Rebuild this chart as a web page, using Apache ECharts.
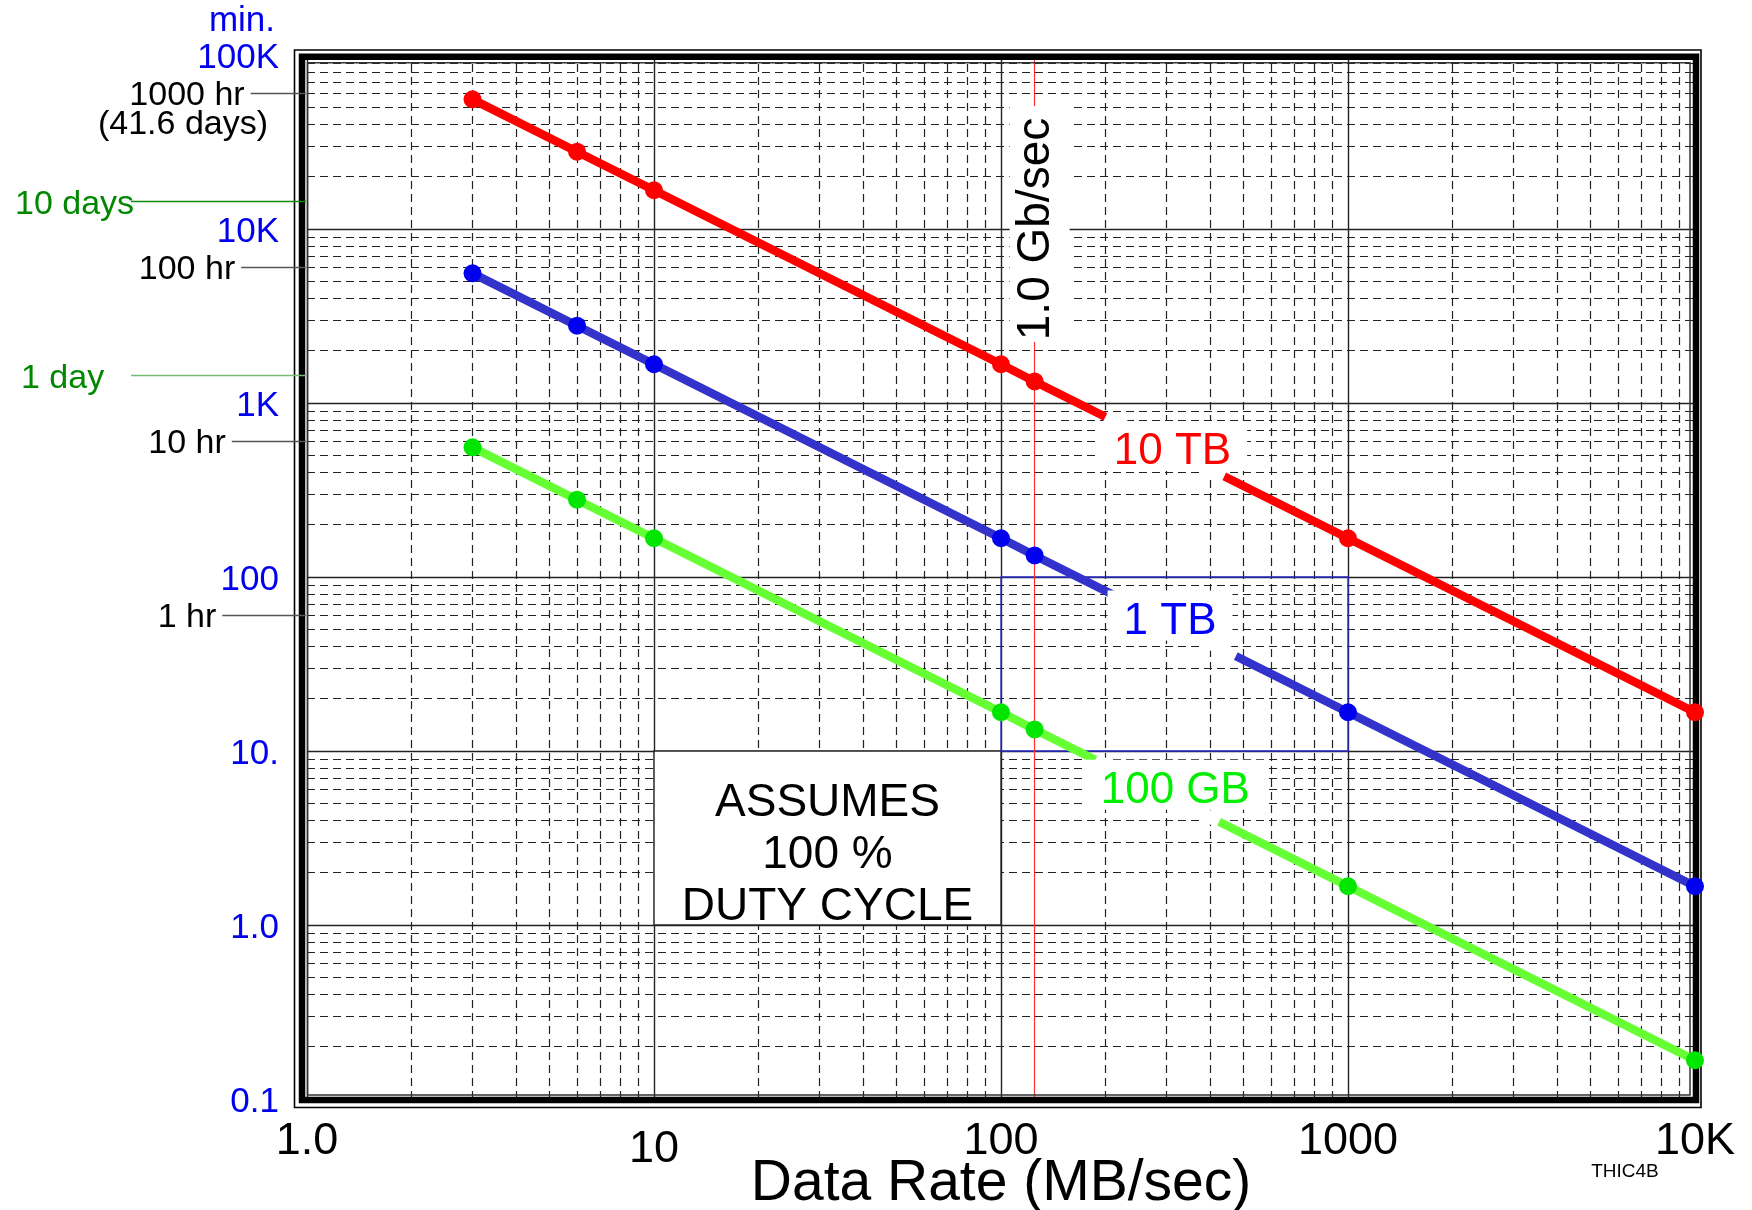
<!DOCTYPE html>
<html>
<head>
<meta charset="utf-8">
<script src="https://cdn.jsdelivr.net/npm/echarts@6/dist/echarts.min.js"></script>
<style>
html,body{margin:0;padding:0;background:#fff;}
#c{width:1752px;height:1210px;}
</style>
</head>
<body>
<div id="c"></div>
<script>
const FONT = '"Liberation Sans", Arial, Helvetica, sans-serif';

// ---------------- data ----------------
const rates = [3, 6, 10, 100, 125, 1000, 10000];               // MB/sec
const minutes10TB  = [55600, 27800, 16700, 1670, 1330, 167, 16.7];
const minutes1TB   = [5560, 2780, 1670, 167, 133, 16.7, 1.67];
const minutes100GB = [556, 278, 167, 16.7, 13.3, 1.67, 0.167];
const seriesNames  = ['10 TB', '1 TB', '100 GB'];

const xTickLabels = {0: '1.0', 1: '10', 2: '100', 3: '1000', 4: '10K'};            // by decade exponent
const yTickLabels = {'-1': '0.1', 0: '1.0', 1: '10.', 2: '100', 3: '1K', 4: '10K', 5: '100K'};
const minorSteps = [2, 3, 4, 5, 6, 7, 8, 9];
const xDecades = [1, 10, 100, 1000];
const yDecades = [0.1, 1, 10, 100, 1000, 10000];

const gigabitRate = 125;                     // 1.0 Gb/sec in MB/sec
const hourMarks = [['1000 hr', 60000], ['100 hr', 6000], ['10 hr', 600], ['1 hr', 60]];
const dayMarks  = [['10 days', 14400], ['1 day', 1440]];
const dutyBox = [[10, 1], [100, 10]];
const blueBox = [[100, 10], [1000, 100]];

// annotation layout (data-space anchors for labels, x-ranges of line gaps)
const seriesLabelAnchors = [[312, 551], [307, 58.5], [318, 6.24]];
const seriesGaps = [[200, 440], [219, 475], [187, 425]];
const gigabitLabelY = 10000;

// ---------------- styles ----------------
const lineColors   = ['#ff0000', '#3333cc', '#66ff33'];
const markerColors = ['#ff0000', '#0000ee', '#00e600'];
const labelColors  = ['#ff0000', '#0000ff', '#00ee00'];

const xMinor = [];
xDecades.forEach(d => minorSteps.forEach(m => xMinor.push(+(d * m).toPrecision(4))));
const yMinor = [];
yDecades.forEach(d => minorSteps.forEach(m => yMinor.push(+(d * m).toPrecision(4))));

const valueSets = [minutes10TB, minutes1TB, minutes100GB];
const dataSeries = seriesNames.map((name, i) => ({
  name: name,
  type: 'line',
  z: 5,
  clip: false,
  data: rates.map((r, k) => [r, valueSets[i][k]]),
  symbol: 'circle',
  symbolSize: 18,
  lineStyle: {color: lineColors[i], width: 8.5},
  itemStyle: {color: markerColors[i], borderWidth: 0},
  emphasis: {disabled: true},
  silent: true
}));

const chart = echarts.init(document.getElementById('c'), null, {renderer: 'canvas', width: 1752, height: 1210});

const option = {
  animation: false,
  backgroundColor: '#ffffff',
  textStyle: {fontFamily: FONT},
  grid: {left: 307, right: 57, top: 55, bottom: 111, containLabel: false, outerBoundsMode: 'none'},
  xAxis: {
    type: 'log', logBase: 10, min: 1, max: 10000,
    name: 'Data Rate (MB/sec)', nameLocation: 'middle', nameGap: 57, nameMoveOverlap: false,
    nameTextStyle: {fontSize: 57, color: '#000', fontFamily: FONT},
    axisLine: {show: false}, axisTick: {show: false},
    axisLabel: {
      fontSize: 45, color: '#000', margin: 20, fontFamily: FONT,
      showMinLabel: true, showMaxLabel: true,
      formatter: v => {
        const e = Math.round(Math.log10(v));
        const t = xTickLabels[e] || '';
        return e === 1 ? '{low|' + t + '}' : t;
      },
      rich: {low: {fontSize: 45, color: '#000', fontFamily: FONT, padding: [8, 0, 0, 0]}}
    },
    splitLine: {show: true, lineStyle: {color: '#222', width: 1.4}}
  },
  yAxis: {
    type: 'log', logBase: 10, min: 0.1, max: 100000,
    name: 'min.', nameLocation: 'end', nameGap: 34, nameMoveOverlap: false,
    nameTextStyle: {fontSize: 35, color: '#0000ee', fontFamily: FONT, align: 'right', verticalAlign: 'middle', padding: [0, 32, 0, 0]},
    axisLine: {show: false}, axisTick: {show: false},
    axisLabel: {
      fontSize: 35, color: '#0000ee', margin: 28, fontFamily: FONT,
      showMinLabel: true, showMaxLabel: true,
      formatter: v => '{a|' + (yTickLabels[Math.round(Math.log10(v))] || '') + '}',
      rich: {a: {fontSize: 35, color: '#0000ee', fontFamily: FONT, padding: [6, 0, 0, 0]}}
    },
    splitLine: {show: true, lineStyle: {color: '#222', width: 1.4}}
  },
  series: [
    {
      type: 'line', data: [], z: 1, silent: true,
      markLine: {
        z: 1, silent: true, animation: false, symbol: ['none', 'none'],
        label: {show: false},
        lineStyle: {type: [8, 5], color: '#222', width: 1.2},
        emphasis: {disabled: true},
        data: xMinor.map(v => ({xAxis: v})).concat(yMinor.map(v => ({yAxis: v})))
      }
    },
    {
      type: 'line', data: [], z: 2, silent: true,
      markArea: {
        z: 2, silent: true, animation: false,
        emphasis: {disabled: true},
        data: [
          [{coord: dutyBox[0], itemStyle: {color: '#ffffff', borderColor: '#222', borderWidth: 1.4},
            label: {show: true, position: 'inside', formatter: 'ASSUMES\n100 %\nDUTY CYCLE', fontSize: 46, lineHeight: 52,
                    color: '#000', fontFamily: FONT, offset: [0, 17]}},
           {coord: dutyBox[1]}],
          [{coord: blueBox[0], itemStyle: {color: 'rgba(0,0,0,0)', borderColor: '#2a2acc', borderWidth: 1.3},
            label: {show: false}},
           {coord: blueBox[1]}]
        ]
      },
      markLine: {
        z: 2, silent: true, animation: false, symbol: ['none', 'none'],
        label: {show: false},
        lineStyle: {type: 'solid', color: '#ff3030', width: 1.2},
        emphasis: {disabled: true},
        data: [{xAxis: gigabitRate}]
      }
    }
  ].concat(dataSeries)
};

chart.setOption(option);

// ---------------- annotations via the chart's own scales ----------------
const P = (x, y) => chart.convertToPixel({gridIndex: 0}, [x, y]);
const tl = P(1, 100000), br = P(10000, 0.1);
const gx0 = tl[0], gy0 = tl[1], gx1 = br[0], gy1 = br[1];

const mctx = document.createElement('canvas').getContext('2d');
const measure = (t, s) => { mctx.font = s + 'px ' + FONT; return mctx.measureText(t).width; };
const TEXT_DY = 3;
const txt = (t, x, y, size, color, align, z, extra) => Object.assign({
  type: 'text', z: z || 7, silent: true,
  style: {text: t, x: x, y: y + TEXT_DY, font: size + 'px ' + FONT, fill: color,
          align: align || 'center', textAlign: align || 'center',
          verticalAlign: 'middle', textVerticalAlign: 'middle'}
}, extra || {});

const g = [];

// frame (triple border)
const frame = (x0, y0, x1, y1, w, c) => ({type: 'rect', z: 3, silent: true,
  shape: {x: x0, y: y0, width: x1 - x0, height: y1 - y0}, style: {fill: null, stroke: c, lineWidth: w}});
g.push(frame(gx0 - 12.5, gy0 - 5, gx1 + 6, gy1 + 8.5, 1.6, '#000'));
g.push(frame(gx0 - 5, gy0 + 1.7, gx1 + 1, gy1 + 1, 6.5, '#000'));
g.push(frame(gx0 + 0.5, gy0 + 7.7, gx1 - 5, gy1 - 4, 1.5, '#333'));

// hour marks (black) on the left
const hourCx = gx0 - 120;
hourMarks.forEach(([t, m], i) => {
  const y = P(1, m)[1];
  const w = measure(t, 34);
  g.push(txt(t, hourCx, y - 1, 34, '#000', 'center', 4));
  g.push({type: 'line', z: 4, silent: true, shape: {x1: hourCx + w / 2 + 6, y1: y, x2: gx0 - 1, y2: y},
          style: {stroke: '#555', lineWidth: 1.5}});
  if (i === 0) g.push(txt('(41.6 days)', hourCx - 4, y + 28, 34, '#000', 'center', 4));
});
// day marks (green)
const dayLineColors = ['#118811', '#77bb77'];
dayMarks.forEach(([t, m], i) => {
  const y = P(1, m)[1];
  g.push(txt(t, 15 + i * 6, y, 34, '#008800', 'left', 4));
  g.push({type: 'line', z: 4, silent: true, shape: {x1: 131, y1: y, x2: gx0 - 1, y2: y},
          style: {stroke: dayLineColors[i], lineWidth: 1.6}});
});

// 1.0 Gb/sec vertical label
const gb = P(gigabitRate, gigabitLabelY);
g.push({type: 'rect', z: 6, silent: true, shape: {x: gb[0] - 25, y: gb[1] - 123, width: 60, height: 236}, style: {fill: '#fff'}});
g.push({type: 'text', z: 7, silent: true, x: gb[0] + 2, y: gb[1], rotation: Math.PI / 2,
        style: {text: '1.0 Gb/sec', x: 0, y: 0, font: '46px ' + FONT, fill: '#000',
                align: 'center', textAlign: 'center', verticalAlign: 'middle', textVerticalAlign: 'middle'}});

// series labels with gaps in the lines
seriesNames.forEach((name, i) => {
  const a = P(seriesLabelAnchors[i][0], seriesLabelAnchors[i][1]);
  const w = measure(name, 44);
  g.push({type: 'rect', z: 6, silent: true, shape: {x: a[0] - w / 2 - 16, y: a[1] - 27, width: w + 32, height: 50}, style: {fill: '#fff'}});
  g.push(txt(name, a[0], a[1] + 1, 44, labelColors[i], 'center', 7));
  // erase the line between gap ends (following the drawn segment between neighbouring points)
  const vals = valueSets[i];
  const ends = seriesGaps[i].map(gxv => {
    let j = 0;
    while (j < rates.length - 2 && rates[j + 1] <= gxv) j++;
    const p0 = P(rates[j], vals[j]), p1 = P(rates[j + 1], vals[j + 1]);
    const px = P(gxv, 1)[0];
    const t = (px - p0[0]) / (p1[0] - p0[0]);
    return [px, p0[1] + t * (p1[1] - p0[1])];
  });
  g.push({type: 'line', z: 6, silent: true, shape: {x1: ends[0][0], y1: ends[0][1], x2: ends[1][0], y2: ends[1][1]},
          style: {stroke: '#fff', lineWidth: 13, lineCap: 'butt'}});
});

// drawing id
g.push(txt('THIC4B', gx1 - 70, gy1 + 70, 19, '#000', 'center', 7));

chart.setOption({graphic: g});
</script>
</body>
</html>
